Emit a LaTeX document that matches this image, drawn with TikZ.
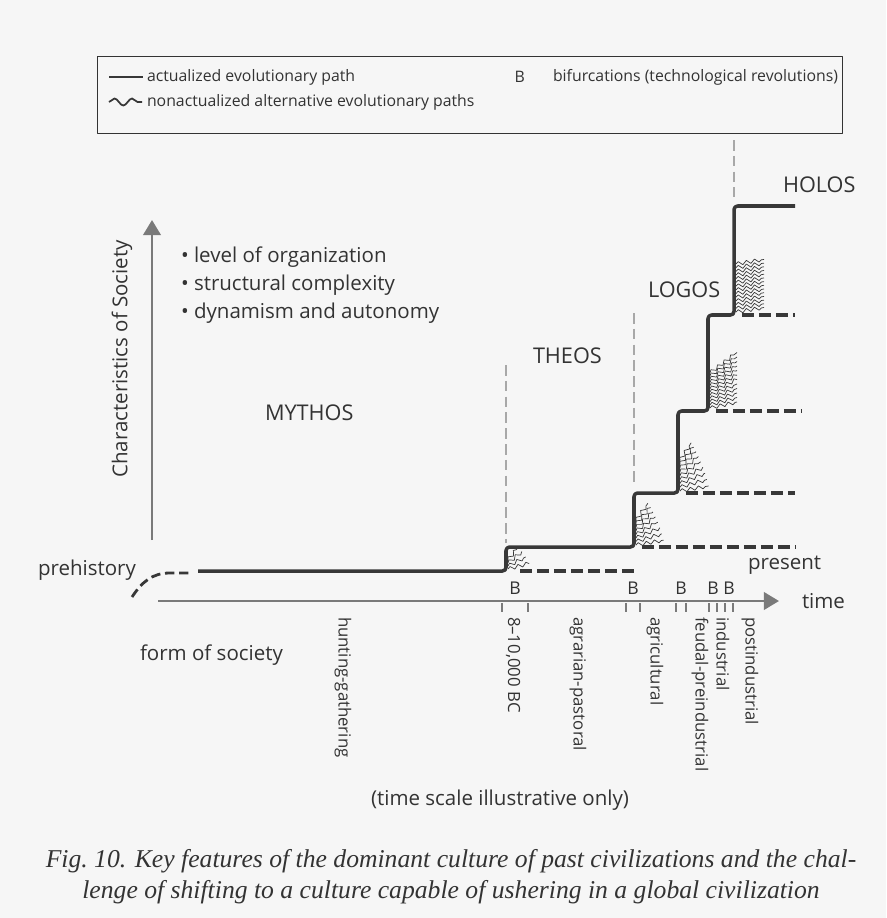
\documentclass[tikz,border=0pt]{standalone}
\usepackage{fontspec}
\setmainfont{Open Sans}
\newfontfamily\captionface{Liberation Serif}
\usetikzlibrary{arrows.meta,decorations.pathmorphing}
\definecolor{SocPaper}{gray}{0.965}
\definecolor{SocInk}{gray}{0.2}
\definecolor{SocPath}{gray}{0.22}
\definecolor{SocAxis}{gray}{0.48}
\definecolor{SocGuide}{gray}{0.66}
\tikzset{
    soc/diagram/.style={
        x=0.03cm, y=-0.03cm,
        text=SocInk,
        line join=round,
        every node/.style={inner sep=0pt, outer sep=0pt}
    },
    soc/frame/.style={draw=SocInk, line width=0.8pt},
    soc/sample/.style={draw=SocPath, line width=1.8pt},
    soc/samplewave/.style={
        draw=SocPath, line width=1.5pt, decorate,
        decoration={snake, segment length=15pt, amplitude=3pt}
    },
    soc/axis/.style={
        draw=SocAxis, line width=2.3pt,
        -{Triangle[length=13pt, width=15pt]}
    },
    soc/tick/.style={draw=SocAxis, line width=1.5pt},
    soc/path/.style={draw=SocPath, line width=3pt, rounded corners=3pt},
    soc/open/.style={draw=SocPath, line width=2.7pt, dash pattern=on 10pt off 4.5pt},
    soc/epoch/.style={draw=SocGuide, line width=2.4pt, dash pattern=on 9pt off 4.5pt},
    soc/wave/.style={
        draw=SocPath, line width=0.6pt, decorate,
        decoration={snake, segment length=7pt, amplitude=1.6pt}
    },
    soc/legend/.style={anchor=west, font=\fontsize{13.5}{16}\selectfont},
    soc/era/.style={anchor=west, font=\fontsize{18.5}{22}\selectfont},
    soc/feature/.style={anchor=west, font=\fontsize{17.5}{21}\selectfont},
    soc/period/.style={anchor=west, rotate=-90, font=\fontsize{14.3}{17}\selectfont},
    soc/bif/.style={font=\fontsize{15}{18}\selectfont},
    soc/note/.style={font=\fontsize{17.5}{21}\selectfont},
    soc/caption/.style={align=center, font=\captionface\itshape\fontsize{21.9}{26.5}\selectfont}
}

\begin{document}
\begin{tikzpicture}[soc/diagram]
    \useasboundingbox[fill=SocPaper] (0,0) rectangle (886,918);

    % legend
    \draw[soc/frame] (97,56) rectangle (842,133);
    \coordinate (leg1a) at (109,77);
    \coordinate (leg1b) at (143,77);
    \draw[soc/sample] (leg1a) -- (leg1b);
    \node[soc/legend] (legpath) at (147,77) {actualized evolutionary path};
    \coordinate (leg2a) at (109,102);
    \coordinate (leg2b) at (142,102);
    \draw[soc/samplewave] (leg2a) -- (leg2b);
    \node[soc/legend] (legwave) at (147,102) {nonactualized alternative evolutionary paths};
    \node[soc/legend, anchor=east] (legbif) at (838,77) {bifurcations (technological revolutions)};
    \node[soc/legend, anchor=east] (legB) at ([xshift=-24pt]legbif.west) {B};

    % axes
    \coordinate (ybot) at (152,540);
    \coordinate (ytop) at (152,220);
    \draw[soc/axis] (ybot) -- (ytop);
    \coordinate (tleft) at (158,601);
    \coordinate (tright) at (779,601);
    \draw[soc/axis] (tleft) -- (tright);
    \foreach \t in {502,528,626,640,676,686,709,717,725,733}
        \draw[soc/tick] (\t,603) -- (\t,612);

    \node[soc/note, rotate=90, anchor=east] (yname) at (122,240) {Characteristics of Society};
    \node[soc/feature] (feat1) at (181,257) {\textbullet\ level of organization};
    \node[soc/feature] (feat2) at (181,285) {\textbullet\ structural complexity};
    \node[soc/feature] (feat3) at (181,313) {\textbullet\ dynamism and autonomy};

    % epochs of the dominant culture
    \node[soc/era] (mythos) at (265,413) {MYTHOS};
    \node[soc/era] (theos) at (533,356) {THEOS};
    \node[soc/era] (logos) at (648,290) {LOGOS};
    \node[soc/era] (holos) at (783,185) {HOLOS};

    % step corners
    \coordinate (c1) at (506,571);
    \coordinate (c2) at (634,547);
    \coordinate (c3) at (678,493);
    \coordinate (c4) at (708,411);
    \coordinate (c5) at (734,315);

    \draw[soc/epoch] (506,365) -- (506,543);
    \draw[soc/epoch] (634,313) -- (634,485);
    \draw[soc/epoch] (734,140) -- (734,197);

    \draw[soc/open, line width=2.4pt, dash pattern=on 8pt off 4pt]
        (132,597) .. controls (142,582) and (152,573) .. (170,573) -- (192,573);
    \draw[soc/path] (198,571) -- (c1) -- (506,547) -- (c2) -- (634,493) -- (c3)
        -- (678,411) -- (c4) -- (708,315) -- (c5) -- (734,206) -- (795,206);
    \draw[soc/open] (520,571) -- (634,571);
    \draw[soc/open] (642,547) -- (795,547);
    \draw[soc/open] (686,493) -- (795,493);
    \draw[soc/open] (716,411) -- (802,411);
    \draw[soc/open] (742,315) -- (795,315);

    % nonactualized alternatives
    \foreach \i in {0,...,3}
        \draw[soc/wave] ([shift={(2,{-2-3*\i})}]c1)
            -- ++({(22-2*\i)*cos(15+12*\i)}, {-(22-2*\i)*sin(15+12*\i)});
    \foreach \i in {0,...,7}
        \draw[soc/wave] ([shift={(2,{-2-3.5*\i})}]c2)
            -- ++({(28-\i)*cos(10+6.5*\i)}, {-(28-\i)*sin(10+6.5*\i)});
    \foreach \i in {0,...,8}
        \draw[soc/wave] ([shift={(2,{-2-3.8*\i})}]c3)
            -- ++({(29-\i)*cos(10+6*\i)}, {-(29-\i)*sin(10+6*\i)});
    \foreach \i in {0,...,11}
        \draw[soc/wave] ([shift={(2,{-3-3.2*\i})}]c4) -- ++(27,{-6-1.3*\i});
    \foreach \i in {0,...,13}
        \draw[soc/wave] ([shift={(2,{-3-3.7*\i})}]c5) -- ++(28,-4.5);

    % bifurcations and time
    \foreach \b/\n in {515/b1, 633/b2, 681/b3, 713/b4, 729/b5}
        \node[soc/bif] (\n) at (\b,588) {B};
    \node[soc/note, anchor=west] (prehist) at (38,570) {prehistory};
    \node[soc/note, anchor=west] (present) at (748,565) {present};
    \node[soc/note, anchor=west] (time) at (802,601) {time};
    \node[soc/note, anchor=west] (form) at (140,655) {form of society};

    \node[soc/period] (hunt) at (343,617) {hunting-gathering};
    \node[soc/period] (bc) at (513,617) {8–10,000 BC};
    \node[soc/period] (agrar) at (578,617) {agrarian-pastoral};
    \node[soc/period] (agri) at (655,617) {agricultural};
    \node[soc/period] (feudal) at (700,617) {feudal-preindustrial};
    \node[soc/period] (indus) at (723,617) {industrial};
    \node[soc/period] (postind) at (750,617) {postindustrial};

    \node[soc/note] (scale) at (500,800) {(time scale illustrative only)};
    \node[soc/caption] (caption) at (451,877)
        {Fig.~10. Key features of the dominant culture of past civilizations and the chal-\\
         lenge of shifting to a culture capable of ushering in a global civilization};
\end{tikzpicture}
\end{document}
